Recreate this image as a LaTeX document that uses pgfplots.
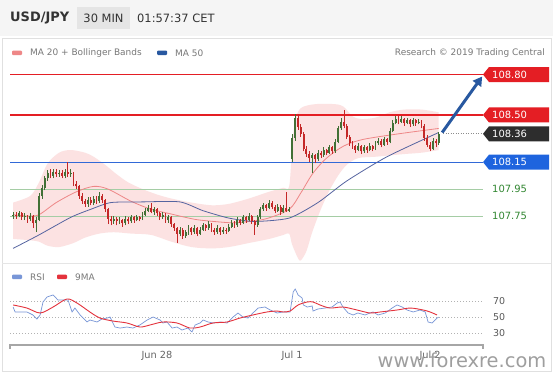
\documentclass[border=0pt]{standalone}
\usepackage{pgfplots}
\pgfplotsset{compat=1.18}
\usepackage{pgfplotstable}
\usepgfplotslibrary{fillbetween}
\usetikzlibrary{arrows.meta}
\usepackage{fontspec}
\setmainfont{DejaVu Sans}
\definecolor{cred}{RGB}{228,30,36}
\definecolor{cblue}{RGB}{50,105,215}
\definecolor{tagblue}{RGB}{30,100,222}
\definecolor{tagdark}{RGB}{45,45,45}
\definecolor{lgreen}{RGB}{165,205,165}
\definecolor{tgreen}{RGB}{50,135,50}
\definecolor{arrowblue}{RGB}{40,88,160}
\definecolor{cgreen}{RGB}{66,112,54}
\definecolor{cdred}{RGB}{196,40,40}
\definecolor{bbpink}{RGB}{252,226,226}
\definecolor{ma20}{RGB}{238,135,135}
\definecolor{ma50}{RGB}{85,100,160}
\definecolor{rsiblue}{RGB}{120,150,215}
\definecolor{rsired}{RGB}{228,50,60}
\definecolor{txtgrey}{RGB}{120,120,120}

% up candles (close >= open)
\pgfplotstableread{
i o h l c
0 107.75 107.78 107.73 107.76
2 107.75 107.79 107.74 107.77
4 107.74 107.77 107.72 107.75
6 107.73 107.77 107.71 107.75
8 107.70 107.74 107.63 107.72
9 107.72 107.92 107.71 107.90
10 107.90 107.98 107.88 107.96
11 107.96 108.05 107.94 108.03
12 108.03 108.09 108.01 108.07
14 108.05 108.10 108.03 108.08
16 108.06 108.09 108.04 108.07
18 108.05 108.10 108.03 108.08
20 108.06 108.10 108.04 108.07
26 107.84 107.89 107.82 107.87
28 107.85 107.90 107.83 107.88
30 107.86 107.93 107.85 107.90
35 107.71 107.75 107.69 107.73
37 107.71 107.74 107.69 107.72
39 107.70 107.75 107.68 107.73
41 107.71 107.76 107.70 107.74
43 107.72 107.76 107.71 107.74
45 107.73 107.78 107.72 107.76
46 107.76 107.81 107.75 107.79
47 107.79 107.83 107.78 107.81
49 107.78 107.82 107.76 107.80
52 107.74 107.78 107.73 107.76
54 107.72 107.76 107.70 107.74
58 107.62 107.67 107.60 107.65
60 107.60 107.65 107.59 107.63
61 107.63 107.68 107.61 107.66
63 107.63 107.68 107.62 107.66
65 107.62 107.67 107.61 107.65
66 107.65 107.70 107.64 107.68
68 107.66 107.71 107.65 107.69
71 107.63 107.68 107.62 107.66
73 107.63 107.67 107.62 107.65
75 107.64 107.69 107.63 107.67
76 107.67 107.72 107.66 107.70
78 107.68 107.74 107.67 107.72
80 107.70 107.76 107.69 107.74
82 107.72 107.77 107.71 107.75
85 107.68 107.76 107.67 107.74
86 107.74 107.82 107.73 107.80
87 107.80 107.85 107.79 107.83
89 107.81 107.87 107.80 107.85
92 107.79 107.84 107.78 107.82
94 107.78 107.83 107.77 107.81
96 107.79 107.82 107.78 107.80
97 108.17 108.36 108.15 108.33
98 108.33 108.51 108.31 108.48
104 108.18 108.22 108.07 108.20
106 108.17 108.24 108.16 108.22
108 108.20 108.26 108.19 108.24
110 108.22 108.28 108.21 108.26
112 108.23 108.32 108.22 108.30
113 108.30 108.42 108.29 108.40
114 108.40 108.48 108.39 108.45
120 108.24 108.29 108.23 108.27
122 108.23 108.28 108.22 108.26
124 108.24 108.29 108.23 108.27
126 108.25 108.31 108.24 108.29
127 108.29 108.33 108.28 108.31
129 108.28 108.34 108.27 108.32
131 108.30 108.40 108.29 108.38
132 108.38 108.46 108.37 108.44
133 108.44 108.49 108.43 108.47
135 108.45 108.49 108.44 108.47
137 108.44 108.48 108.43 108.46
139 108.43 108.48 108.42 108.46
141 108.44 108.47 108.43 108.45
146 108.25 108.33 108.24 108.31
148 108.29 108.37 108.28 108.36
}\candlesUp

% down candles (close < open)
\pgfplotstableread{
i o h l c
1 107.76 107.78 107.73 107.75
3 107.77 107.78 107.72 107.74
5 107.75 107.76 107.70 107.73
7 107.75 107.76 107.66 107.70
13 108.07 108.10 108.03 108.05
15 108.08 108.10 108.04 108.06
17 108.07 108.09 108.03 108.05
19 108.08 108.15 108.04 108.06
21 108.07 108.08 107.97 107.99
22 107.99 108.01 107.95 107.97
23 107.97 107.98 107.88 107.90
24 107.90 107.92 107.84 107.86
25 107.86 107.88 107.82 107.84
27 107.87 107.89 107.83 107.85
29 107.88 107.90 107.84 107.86
31 107.90 107.91 107.85 107.87
32 107.87 107.88 107.78 107.80
33 107.80 107.81 107.69 107.73
34 107.73 107.75 107.68 107.71
36 107.73 107.74 107.68 107.71
38 107.72 107.73 107.67 107.70
40 107.73 107.74 107.69 107.71
42 107.74 107.75 107.70 107.72
44 107.74 107.75 107.71 107.73
48 107.81 107.85 107.77 107.78
50 107.80 107.81 107.75 107.77
51 107.77 107.78 107.72 107.74
53 107.76 107.77 107.70 107.72
55 107.74 107.75 107.67 107.69
56 107.69 107.70 107.64 107.66
57 107.66 107.67 107.55 107.62
59 107.65 107.66 107.58 107.60
62 107.66 107.67 107.61 107.63
64 107.66 107.67 107.60 107.62
67 107.68 107.69 107.64 107.66
69 107.69 107.70 107.63 107.65
70 107.65 107.66 107.61 107.63
72 107.66 107.67 107.61 107.63
74 107.65 107.66 107.62 107.64
77 107.70 107.71 107.66 107.68
79 107.72 107.73 107.68 107.70
81 107.74 107.75 107.70 107.72
83 107.75 107.76 107.69 107.71
84 107.71 107.72 107.61 107.68
88 107.83 107.84 107.79 107.81
90 107.85 107.86 107.80 107.82
91 107.82 107.83 107.77 107.79
93 107.82 107.83 107.76 107.78
95 107.81 107.93 107.78 107.79
99 108.48 108.51 108.39 108.41
100 108.41 108.43 108.34 108.36
101 108.36 108.37 108.23 108.25
102 108.25 108.27 108.19 108.21
103 108.21 108.23 108.15 108.18
105 108.20 108.21 108.14 108.17
107 108.22 108.23 108.18 108.20
109 108.24 108.25 108.20 108.22
111 108.26 108.27 108.21 108.23
115 108.45 108.54 108.40 108.42
116 108.42 108.43 108.32 108.34
117 108.34 108.35 108.27 108.29
118 108.29 108.31 108.25 108.27
119 108.27 108.28 108.22 108.24
121 108.27 108.28 108.21 108.23
123 108.26 108.27 108.22 108.24
125 108.27 108.28 108.23 108.25
128 108.31 108.32 108.26 108.28
130 108.32 108.33 108.28 108.30
134 108.47 108.49 108.43 108.45
136 108.47 108.48 108.42 108.44
138 108.46 108.47 108.41 108.43
140 108.46 108.47 108.42 108.44
142 108.45 108.46 108.40 108.42
143 108.42 108.43 108.31 108.33
144 108.33 108.35 108.26 108.28
145 108.28 108.30 108.23 108.25
147 108.31 108.32 108.26 108.29
}\candlesDn

\newcommand\pricetag[3]{%
  \fill[#2] (axis cs:163.4,#1) -- ++(6bp,7.5bp) -- ++(60bp,0bp) -- ++(0bp,-15bp) -- ++(-60bp,0bp) -- cycle;
  \node[text=white, anchor=west, inner sep=0pt, font=\fontsize{10}{12}\selectfont] at ([xshift=9bp]axis cs:163.4,#1) {#3};}

\begin{document}
\begin{tikzpicture}[x=1bp,y=1bp]
\fill[white] (0,0) rectangle (553,375);
\fill[black!4] (0,339) rectangle (553,375);
\draw[black!12, line width=0.6bp] (2,4) rectangle (551,337);
\draw[black!10, line width=0.6bp] (2,112) -- (551,112);
% header
\node[anchor=west, inner sep=0pt, font=\bfseries\fontsize{13}{15}\selectfont, text=black!80] at (10,357) {USD/JPY};
\fill[black!10] (77,346) rectangle (130,368);
\node[inner sep=0pt, font=\fontsize{11.5}{13}\selectfont, text=black!80] at (103.5,357) {30 MIN};
\node[anchor=west, inner sep=0pt, font=\fontsize{11.5}{13}\selectfont, text=black!80] at (137,357) {01:57:37 CET};
% legend
\fill[ma20, rounded corners=1bp] (12,320) rectangle (22,324.5);
\node[anchor=west, inner sep=0pt, font=\fontsize{9}{11}\selectfont, text=txtgrey] at (30,322) {MA 20 + Bollinger Bands};
\fill[arrowblue, rounded corners=1bp] (157,320) rectangle (167,324.5);
\node[anchor=west, inner sep=0pt, font=\fontsize{9}{11}\selectfont, text=txtgrey] at (175,322) {MA 50};
\node[anchor=east, inner sep=0pt, font=\fontsize{9}{11}\selectfont, text=txtgrey] at (545,322) {Research © 2019 Trading Central};
\fill[rsiblue, rounded corners=1bp] (12,96) rectangle (22,100.5);
\node[anchor=west, inner sep=0pt, font=\fontsize{9}{11}\selectfont, text=txtgrey] at (30,98) {RSI};
\fill[rsired, rounded corners=1bp] (57,96) rectangle (67,100.5);
\node[anchor=west, inner sep=0pt, font=\fontsize{9}{11}\selectfont, text=txtgrey] at (75,98) {9MA};

\begin{axis}[at={(10bp,113bp)}, anchor=south west, scale only axis, width=473bp, height=200bp,
  xmin=-1.08, xmax=163.4, ymin=107.409, ymax=108.893, hide axis, clip=false]
% Bollinger bands
\addplot[name path=bbU, draw=none, smooth, tension=0.5] coordinates {
(0,107.85) (6,107.90) (9,108.00) (12,108.14) (16,108.22) (20,108.24) (25,108.22) (28,108.19) (32,108.13) (36,108.06) (40,108.00) (45,107.95) (50,107.91) (55,107.88) (62,107.85) (69,107.83) (75,107.84) (82,107.88) (89,107.93) (94,107.96) (96,107.97) (97,108.25) (98,108.45) (100,108.55) (105,108.58) (112,108.58) (115,108.56) (118,108.49) (121,108.47) (126,108.48) (131,108.52) (136,108.54) (142,108.54) (148,108.52)};
\addplot[name path=bbL, draw=none, smooth, tension=0.5] coordinates {
(0,107.58) (6,107.57) (9,107.56) (12,107.53) (16,107.52) (21,107.55) (25,107.59) (30,107.62) (35,107.63) (41,107.62) (48,107.61) (55,107.56) (62,107.52) (69,107.51) (75,107.52) (82,107.55) (89,107.58) (94,107.61) (96,107.62) (97,107.54) (99,107.44) (100,107.42) (102,107.49) (104,107.63) (107,107.80) (110,107.94) (113,108.05) (116,108.13) (120,108.18) (126,108.19) (131,108.20) (136,108.21) (142,108.22) (148,108.24)};
\addplot[bbpink] fill between[of=bbU and bbL, on layer=main];
% level lines
\addplot[lgreen, line width=0.9bp] coordinates {(-1.08,107.75) (163.4,107.75)};
\addplot[lgreen, line width=0.9bp] coordinates {(-1.08,107.95) (163.4,107.95)};
\addplot[cblue, line width=1.2bp] coordinates {(-1.08,108.15) (163.4,108.15)};
\addplot[cred, line width=1.8bp] coordinates {(-1.08,108.50) (163.4,108.50)};
\addplot[cred, line width=1.8bp] coordinates {(-1.08,108.80) (163.4,108.80)};
\addplot[black!45, line width=0.8bp, dash pattern=on 1bp off 1.5bp] coordinates {(149.5,108.36) (163.4,108.36)};
% MA20
\addplot[ma20, line width=0.8bp, smooth, tension=0.5] coordinates {
(0,107.76) (5,107.75) (9,107.76) (15,107.85) (22,107.93) (28,107.97) (33,107.95) (41,107.86) (48,107.80) (54,107.77) (60,107.74) (65,107.72) (76,107.70) (82,107.71) (88,107.73) (96,107.80) (100,107.92) (104,108.06) (108,108.16) (112,108.23) (116,108.28) (122,108.32) (134,108.36) (148,108.40)};
% MA50
\addplot[ma50, line width=0.8bp, smooth, tension=0.4] coordinates {
(0,107.51) (9,107.61) (20,107.74) (27,107.80) (34,107.85) (45,107.855) (58,107.855) (66,107.79) (75,107.735) (84,107.71) (96,107.735) (106,107.85) (116,108.01) (130,108.19) (148,108.37)};
% candles: wicks
\addplot[cgreen, mark=none, draw=none, error bars/.cd, y dir=plus, y explicit, error mark=none,
  error bar style={draw=cgreen, line width=0.6bp, solid}]
  table[x=i, y=l, y error expr={\thisrow{h}-\thisrow{l}}] {\candlesUp};
\addplot[cdred, mark=none, draw=none, error bars/.cd, y dir=plus, y explicit, error mark=none,
  error bar style={draw=cdred, line width=0.6bp, solid}]
  table[x=i, y=l, y error expr={\thisrow{h}-\thisrow{l}}] {\candlesDn};
% candles: bodies
\addplot[cgreen, mark=none, draw=none, error bars/.cd, y dir=plus, y explicit, error mark=none,
  error bar style={draw=cgreen, line width=1.9bp, solid}]
  table[x=i, y=o, y error expr={max(\thisrow{c}-\thisrow{o},0.006)}] {\candlesUp};
\addplot[cdred, mark=none, draw=none, error bars/.cd, y dir=plus, y explicit, error mark=none,
  error bar style={draw=cdred, line width=1.9bp, solid}]
  table[x=i, y=c, y error expr={max(\thisrow{o}-\thisrow{c},0.006)}] {\candlesDn};
% forecast arrow
\addplot[arrowblue, line width=3bp, -{Triangle[length=9bp,width=10bp]}] coordinates {(149.2,108.37) (163.1,108.785)};
% tags
\pricetag{108.80}{cred}{108.80}
\pricetag{108.50}{cred}{108.50}
\pricetag{108.36}{tagdark}{108.36}
\pricetag{108.15}{tagblue}{108.15}
\node[text=tgreen, anchor=west, inner sep=0pt, font=\fontsize{10}{12}\selectfont] at ([xshift=9bp]axis cs:163.4,107.95) {107.95};
\node[text=tgreen, anchor=west, inner sep=0pt, font=\fontsize{10}{12}\selectfont] at ([xshift=9bp]axis cs:163.4,107.75) {107.75};
\end{axis}

\begin{axis}[at={(10bp,30bp)}, anchor=south west, scale only axis, width=473bp, height=60bp,
  xmin=-1.08, xmax=163.4, ymin=14.76, ymax=90.95, hide axis, clip=false]
\addplot[black!30, line width=0.9bp, dash pattern=on 1bp off 2bp] coordinates {(-1.08,70) (163.4,70)};
\addplot[black!30, line width=0.9bp, dash pattern=on 1bp off 2bp] coordinates {(-1.08,50) (163.4,50)};
\addplot[black!30, line width=0.9bp, dash pattern=on 1bp off 2bp] coordinates {(-1.08,30) (163.4,30)};
\addplot[rsiblue, line width=0.7bp] coordinates {
(0,63) (0.7,56.7) (4.8,56.7) (6.9,52.9) (8.3,47.8) (9.4,52.9) (10.4,69.4) (11.8,75.7) (13.9,78.3) (15.6,71.9) (17.4,71.9) (19.1,71.9) (20.5,56.7) (21.5,61.7) (23.3,52.9) (25.7,44) (26.7,46.5) (29.2,44) (30.9,47.8) (32.7,49) (33.7,50.3) (35.4,37.6) (37.2,36.3) (39.6,37.6) (41.7,36.3) (44.1,40.2) (46.6,46.5) (48.7,50.3) (51.1,46.5) (52.1,42.7) (53.5,44) (55.3,36.3) (57,37.6) (58.7,33.8) (60.8,36.3) (62.2,31.3) (63.3,40.2) (65,42.7) (66.1,46.5) (67.8,44) (69.5,42.7) (72,44) (74.4,42.7) (76.5,50.3) (78.2,55.4) (79.9,50.3) (81.7,49) (83.4,55.4) (85.2,61.7) (87.6,63) (89.4,59.2) (91.8,55.4) (93.9,56.7) (96.3,56.7) (97.4,82) (98.1,85.9) (99.1,78.3) (100.5,74.4) (100.9,65.6) (102.3,63) (104,64.3) (104.3,57.9) (106,60.5) (108.5,61.7) (110.9,63) (112.7,68.1) (113.7,69.4) (114.7,63) (116.5,55.4) (118.2,52.9) (119.9,55.4) (122.4,52.9) (124.1,55.4) (125.2,56.7) (126.9,52.9) (129.4,55.4) (131.8,61.7) (133.5,65.6) (135.3,63) (137,59.2) (139.1,56.7) (141.5,59.2) (143.3,56.7) (144.3,44) (145.7,42.7) (147.4,49) (148,50)};
\addplot[rsired, line width=0.9bp, smooth, tension=0.5] coordinates {
(0,65.6) (4.8,61.7) (9.4,55.4) (13.9,63) (18.7,73.2) (22.2,68.1) (26.7,56.7) (30.2,49) (34.7,45.2) (39.6,42.7) (44.1,37.6) (47.6,40.2) (52.1,44) (57,42.7) (61.5,36.3) (65,37.6) (69.5,42.7) (74.4,44) (78.9,49) (83.4,52.9) (88.3,56.7) (91.8,57.9) (93.9,56.7) (96.3,57.9) (99.1,65.6) (102.3,69.4) (104.3,69.4) (106.7,65.6) (110.2,61.7) (114.7,63) (119.6,59.2) (124.1,55.4) (127.6,56.7) (133.5,59.2) (138.1,61.7) (142.6,59.2) (145,56.7) (147.4,52.9)};
\draw[black!35, line width=1.3bp] ([yshift=-3.5bp]axis cs:-1.08,14.76) -- (axis cs:-1.08,14.76) -- (axis cs:163.4,14.76) -- ([yshift=-3.5bp]axis cs:163.4,14.76);
\node[text=black!65, anchor=west, inner sep=0pt, font=\fontsize{9.5}{11}\selectfont] at ([xshift=10bp]axis cs:163.4,70) {70};
\node[text=black!65, anchor=west, inner sep=0pt, font=\fontsize{9.5}{11}\selectfont] at ([xshift=10bp]axis cs:163.4,50) {50};
\node[text=black!65, anchor=west, inner sep=0pt, font=\fontsize{9.5}{11}\selectfont] at ([xshift=10bp]axis cs:163.4,30) {30};
\node[text=black!60, inner sep=0pt, font=\fontsize{9.8}{11}\selectfont] at ([yshift=-11bp]axis cs:50,14.76) {Jun 28};
\node[text=black!60, inner sep=0pt, font=\fontsize{9.8}{11}\selectfont] at ([yshift=-11bp]axis cs:97,14.76) {Jul 1};
\node[text=black!60, inner sep=0pt, font=\fontsize{9.8}{11}\selectfont] at ([yshift=-11bp]axis cs:145,14.76) {Jul 2};
\end{axis}
\node[text=black!42, opacity=0.9, inner sep=0pt, font=\fontsize{19.5}{22}\selectfont] at (462,15) {www.forexre.com};
\pgfresetboundingbox
\useasboundingbox (0,0) rectangle (553,375);
\end{tikzpicture}
\end{document}
